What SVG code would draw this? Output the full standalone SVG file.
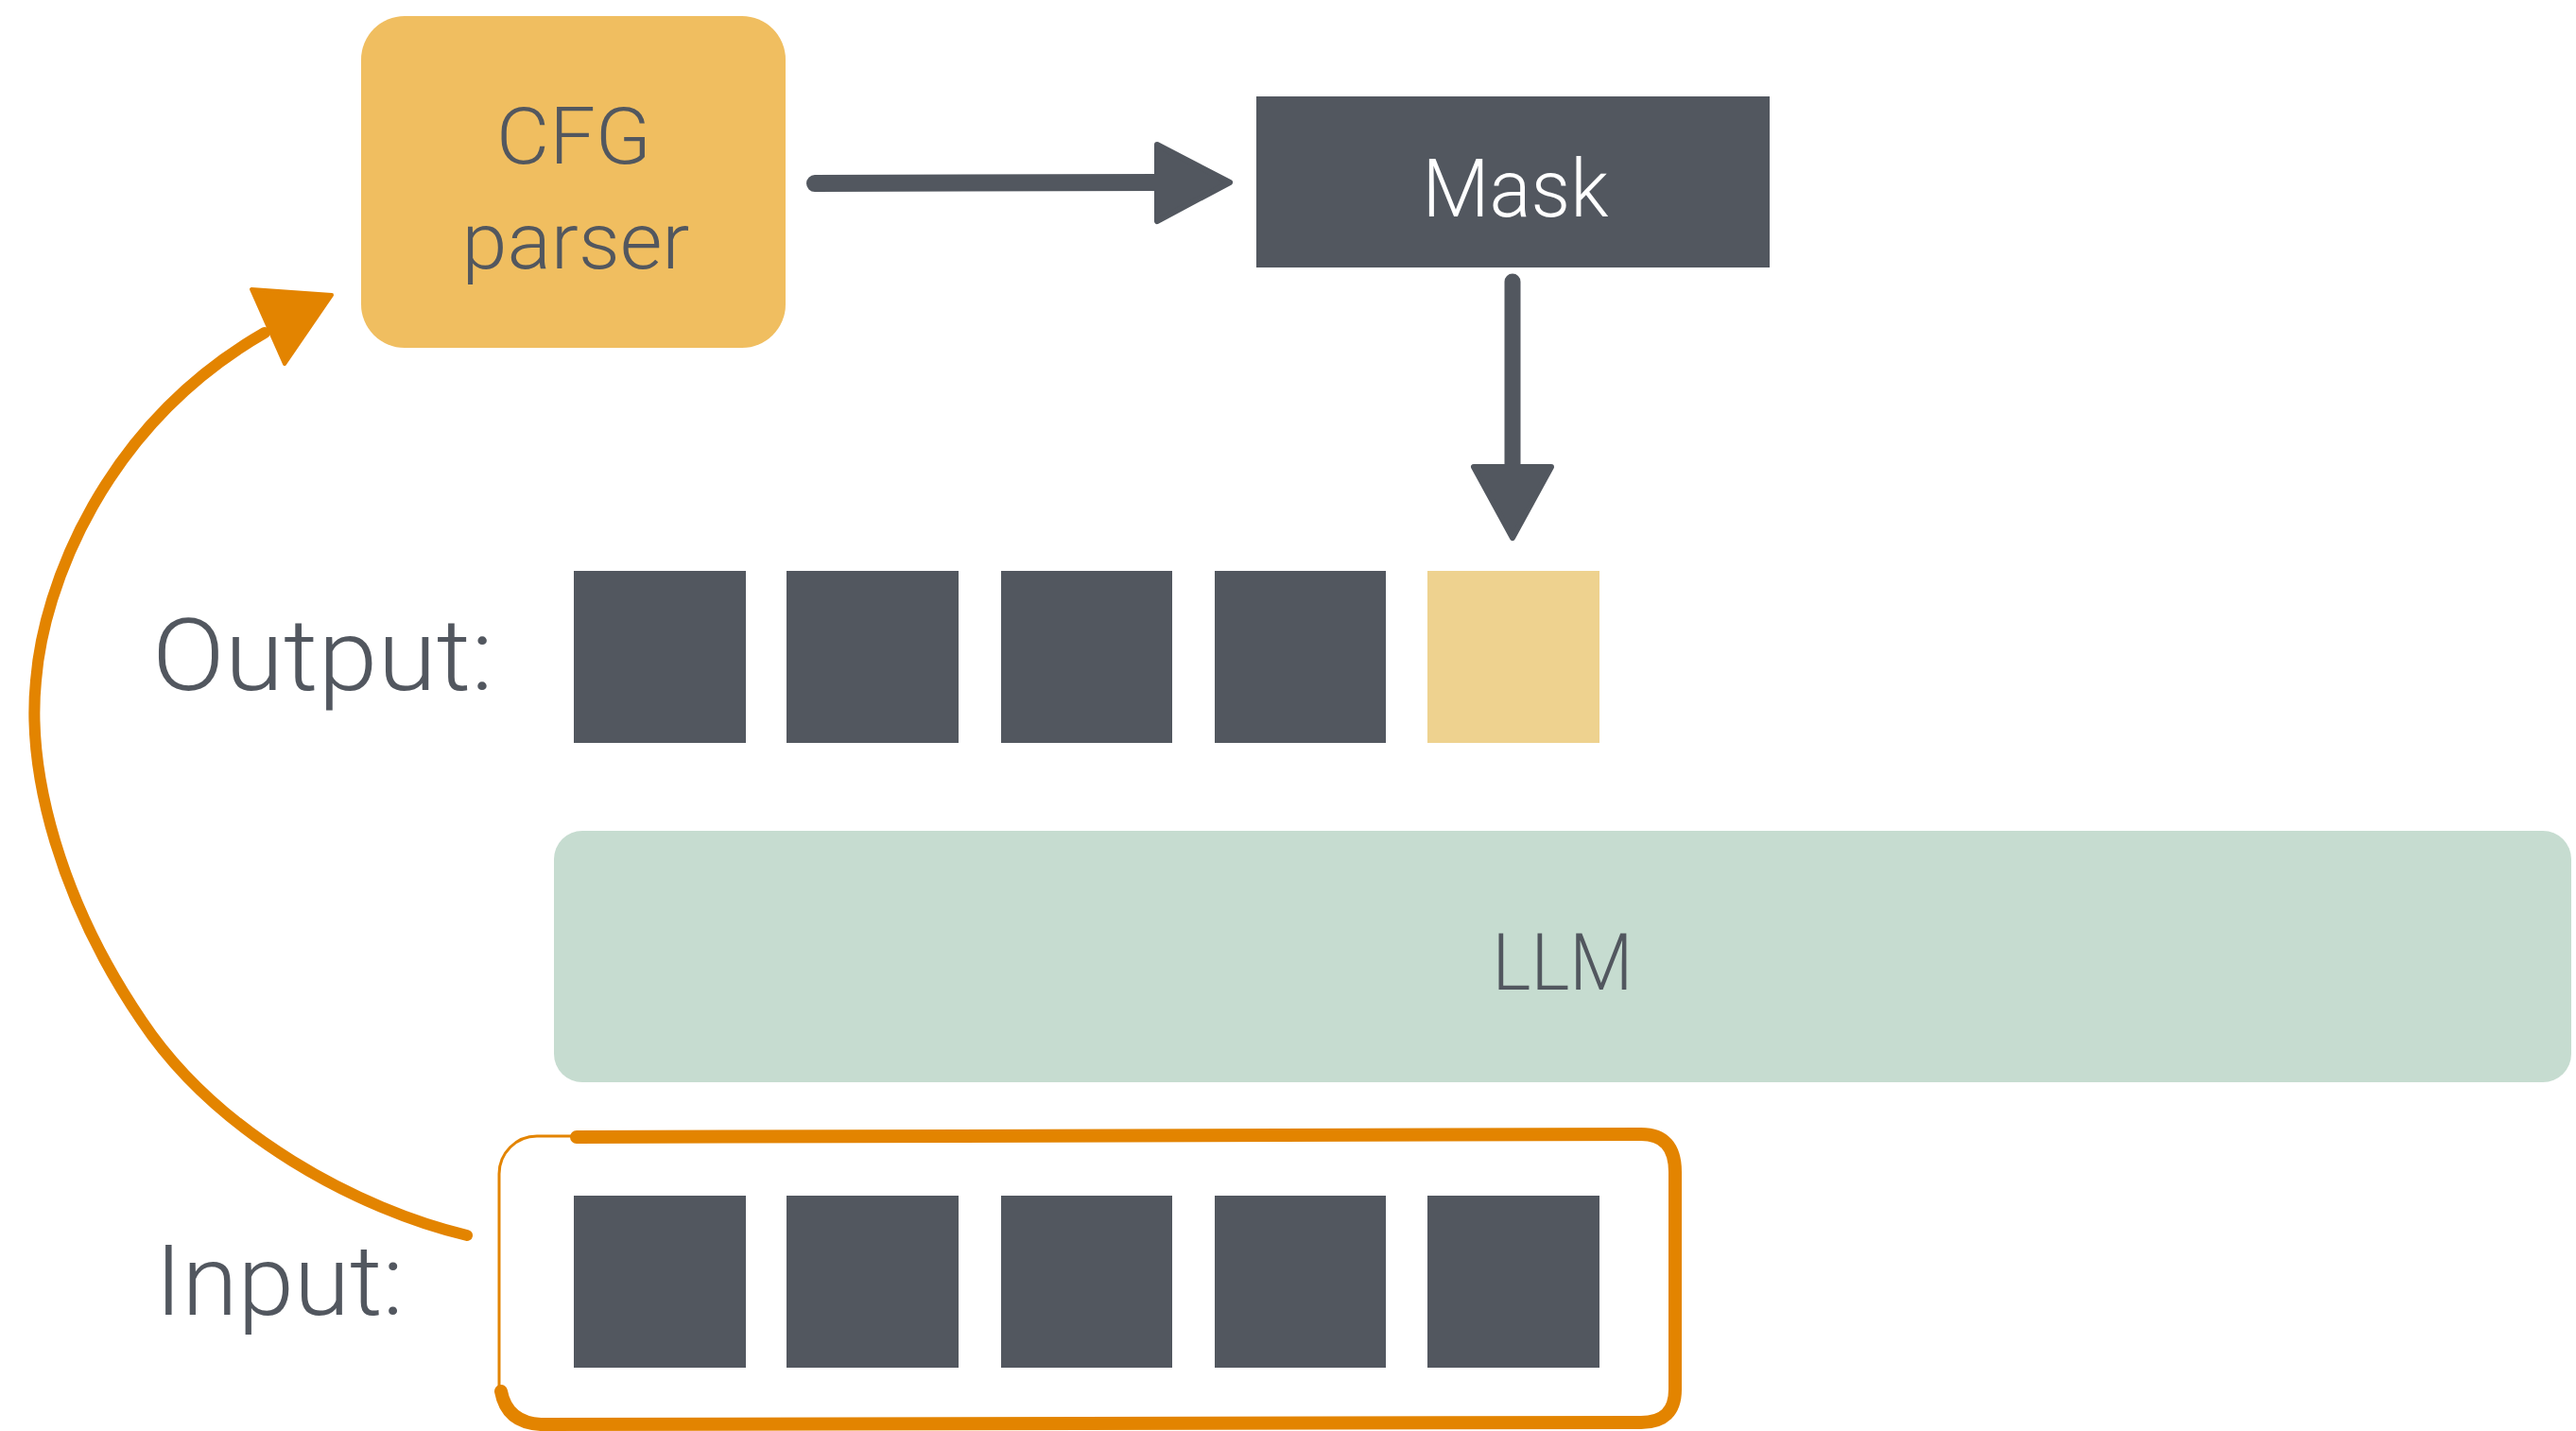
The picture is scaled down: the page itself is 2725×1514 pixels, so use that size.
<svg xmlns="http://www.w3.org/2000/svg" width="2725" height="1514" viewBox="0 0 2725 1514">
<style>
.lbl{font-family:Roboto,"Liberation Sans",sans-serif;font-weight:300;fill:#52575F}
.dark{fill:#52575F}
.orange{stroke:#E38400;fill:none;stroke-linecap:round;stroke-linejoin:round}
.dline{stroke:#52575F;fill:none;stroke-linecap:round}
.dhead{fill:#52575F;stroke:#52575F;stroke-width:6;stroke-linejoin:round}
</style>
<rect width="2725" height="1514" fill="#FFFFFF"/>
<g id="cfg-parser">
<rect x="382" y="17" width="449" height="351" rx="46" fill="#F0BE60"/>
<text class="lbl" x="607" y="173" font-size="84" text-anchor="middle" textLength="164" lengthAdjust="spacingAndGlyphs">CFG</text>
<text class="lbl" x="609" y="284" font-size="84" text-anchor="middle" textLength="241" lengthAdjust="spacingAndGlyphs">parser</text>
</g>
<g id="mask">
<rect x="1329" y="102" width="543" height="181" fill="#52575F"/>
<text class="lbl" x="1603" y="229" font-size="86" text-anchor="middle" style="fill:#FFFFFF" textLength="197" lengthAdjust="spacingAndGlyphs">Mask</text>
</g>
<g id="output">
<text class="lbl" x="161" y="730" font-size="106" textLength="361" lengthAdjust="spacingAndGlyphs">Output:</text>
<rect class="dark" x="607" y="604" width="182" height="182"/>
<rect class="dark" x="832" y="604" width="182" height="182"/>
<rect class="dark" x="1059" y="604" width="181" height="182"/>
<rect class="dark" x="1285" y="604" width="181" height="182"/>
<rect x="1510" y="604" width="182" height="182" fill="#EED28F"/>
</g>
<g id="llm">
<rect x="586" y="879" width="2134" height="266" rx="30" fill="#C6DCD0"/>
<text class="lbl" x="1653" y="1047" font-size="83" text-anchor="middle" textLength="149" lengthAdjust="spacingAndGlyphs">LLM</text>
</g>
<g id="input">
<text class="lbl" x="164" y="1391" font-size="104" textLength="263" lengthAdjust="spacingAndGlyphs">Input:</text>
<rect class="dark" x="607" y="1265" width="182" height="182"/>
<rect class="dark" x="832" y="1265" width="182" height="182"/>
<rect class="dark" x="1059" y="1265" width="181" height="182"/>
<rect class="dark" x="1285" y="1265" width="181" height="182"/>
<rect class="dark" x="1510" y="1265" width="182" height="182"/>
<rect class="orange" x="528" y="1202" width="1246" height="305" rx="40" stroke-width="3"/>
<path class="orange" stroke-width="14" d="M610 1203 L1736 1200 Q1772 1200 1772 1240 L1772 1470 Q1772 1505 1736 1505 L572 1507 Q536 1505 530 1472"/>
</g>
<g id="connectors">
<path class="dline" stroke-width="18" d="M862 194 L1226 193"/>
<polygon class="dhead" points="1224,153 1301,193 1224,234"/>
<path class="dline" stroke-width="17" d="M1600 298 L1600 495"/>
<polygon class="dhead" points="1559,494 1641,494 1600,569"/>
<path class="orange" stroke-width="12" d="M494 1307 C380 1280 230 1200 150 1080 C65 955 28 820 38 720 C46 620 110 450 280 352"/>
<polygon points="266,306 351,312 301,385" fill="#E38400" stroke="#E38400" stroke-width="4" stroke-linejoin="round"/>
</g>
</svg>
